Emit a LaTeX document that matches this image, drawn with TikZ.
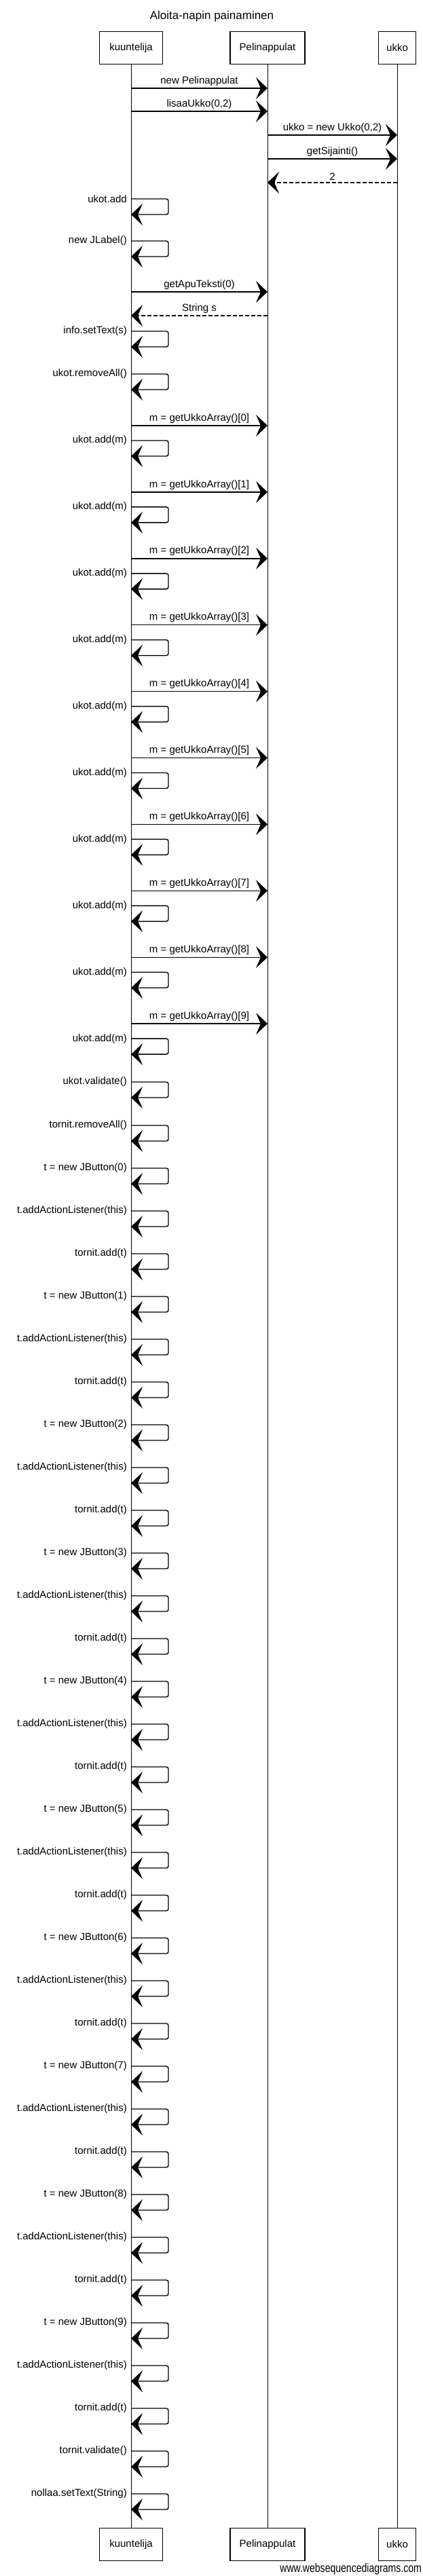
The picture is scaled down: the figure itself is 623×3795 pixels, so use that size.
\documentclass[tikz,border=0pt]{standalone}
\usepackage{fontspec}
\setmainfont{Liberation Sans}
\usetikzlibrary{arrows.meta}

\tikzset{
  olio/.style={draw,line width=1.1pt,minimum height=48pt,inner sep=0pt,font=\fontsize{15}{17}\selectfont},
  elama/.style={line width=0.9pt},
  viesti/.style={line width=1.4pt,-{Stealth[length=17pt,width=32pt,inset=7pt]}},
  paluu/.style={viesti,dash pattern=on 6pt off 3pt},
  teksti/.style={font=\fontsize{15}{17}\selectfont,inner sep=1pt}
}

% itse-kutsu: nimi, y, teksti
\newcommand\itse[3]{%
  \coordinate (#1a) at (kt |- 0,#2);
  \coordinate (#1b) at (248,#2+23);
  \coordinate (#1c) at (kt |- 0,#2+23);
  \draw[viesti,rounded corners=3pt] (#1a) -| (#1b) -- (#1c);
  \node[teksti,anchor=east] (#1t) at (188,#2) {#3};
}

\begin{document}
\begin{tikzpicture}[x=1pt,y=-1pt]
  \useasboundingbox (0,0) rectangle (623,3795);

  \node[font=\fontsize{17}{20}\selectfont] (otsikko) at (312,24) {Aloita-napin painaminen};

  % oliot
  \node[olio,minimum width=93pt] (kt) at (193,70.5) {kuuntelija};
  \node[olio,minimum width=110pt] (pt) at (394,70.5) {Pelinappulat};
  \node[olio,minimum width=55pt] (ut) at (585,70.5) {ukko};
  \node[olio,minimum width=93pt] (kb) at (193,3748.5) {kuuntelija};
  \node[olio,minimum width=110pt] (pb) at (394,3748.5) {Pelinappulat};
  \node[olio,minimum width=55pt] (ub) at (585,3748.5) {ukko};
  \draw[elama] (kt) -- (kb);
  \draw[elama] (pt) -- (pb);
  \draw[elama] (ut) -- (ub);

  % alku
  \coordinate (m1a) at (kt |- 0,130);
  \coordinate (m1b) at (pt |- 0,130);
  \coordinate (m2a) at (kt |- 0,164);
  \coordinate (m2b) at (pt |- 0,164);
  \coordinate (m3a) at (pt |- 0,199);
  \coordinate (m3b) at (ut |- 0,199);
  \coordinate (m4a) at (pt |- 0,234);
  \coordinate (m4b) at (ut |- 0,234);
  \coordinate (m5a) at (ut |- 0,269);
  \coordinate (m5b) at (pt |- 0,269);
  \draw[viesti] (m1a) -- node[teksti,above=2pt] (m1t) {new Pelinappulat} (m1b);
  \draw[viesti] (m2a) -- node[teksti,above=2pt] (m2t) {lisaaUkko(0,2)} (m2b);
  \draw[viesti] (m3a) -- node[teksti,above=2pt] (m3t) {ukko = new Ukko(0,2)} (m3b);
  \draw[viesti] (m4a) -- node[teksti,above=2pt] (m4t) {getSijainti()} (m4b);
  \draw[paluu] (m5a) -- node[teksti,above=2pt] (m5t) {2} (m5b);

  \itse{s1}{293}{ukot.add}
  \itse{s2}{355}{new JLabel()}

  \coordinate (m6a) at (kt |- 0,430);
  \coordinate (m6b) at (pt |- 0,430);
  \coordinate (m7a) at (pt |- 0,465);
  \coordinate (m7b) at (kt |- 0,465);
  \draw[viesti] (m6a) -- node[teksti,above=2pt] (m6t) {getApuTeksti(0)} (m6b);
  \draw[paluu] (m7a) -- node[teksti,above=2pt] (m7t) {String s} (m7b);

  \itse{s3}{488}{info.setText(s)}
  \itse{s4}{551}{ukot.removeAll()}

  % ukot
  \foreach \i in {0,...,9}{
    \pgfmathsetmacro\yy{627+97.9*\i}
    \coordinate (h\i a) at (kt |- 0,\yy);
    \coordinate (h\i b) at (pt |- 0,\yy);
    \draw[viesti] (h\i a) -- node[teksti,above=2pt] (h\i t) {m = getUkkoArray()[\i]} (h\i b);
    \itse{u\i}{\yy+22}{ukot.add(m)}
  }

  \itse{s5}{1594}{ukot.validate()}
  \itse{s6}{1658}{tornit.removeAll()}

  % tornit
  \foreach \i in {0,...,9}{
    \pgfmathsetmacro\yy{1721+189*\i}
    \itse{b\i}{\yy}{t = new JButton(\i)}
    \itse{l\i}{\yy+63}{t.addActionListener(this)}
    \itse{a\i}{\yy+126}{tornit.add(t)}
  }

  \itse{s7}{3611}{tornit.validate()}
  \itse{s8}{3674}{nollaa.setText(String)}

  \node[anchor=south east,inner sep=0pt] (wsd) at (621,3793)
    {\fontsize{18}{20}\selectfont\scalebox{0.78}[1]{www.websequencediagrams.com}};
\end{tikzpicture}
\end{document}
